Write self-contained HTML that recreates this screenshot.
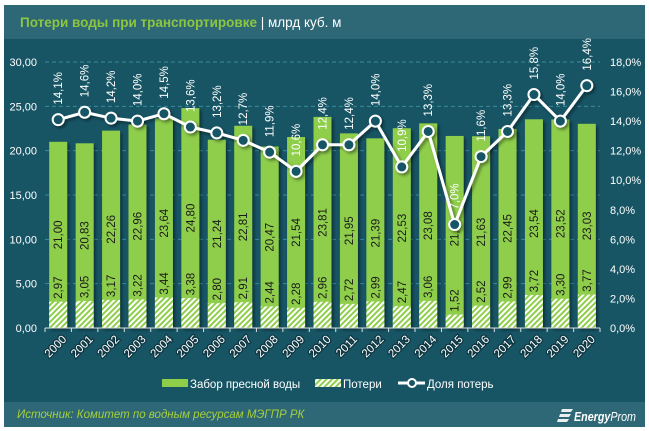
<!DOCTYPE html>
<html><head><meta charset="utf-8"><style>
body{margin:0;background:#fff;}
svg{display:block;font-family:"Liberation Sans","DejaVu Sans",sans-serif;}
</style></head><body>
<svg id="s" width="649" height="431" xmlns="http://www.w3.org/2000/svg">
<defs>
<pattern id="h" width="4" height="4" patternUnits="userSpaceOnUse" patternTransform="rotate(45)">
<rect width="4" height="4" fill="#8fce4b"/><rect width="2" height="4" fill="#ffffff"/>
</pattern>
<filter id="sh" x="-50%" y="-50%" width="200%" height="200%"><feDropShadow dx="2" dy="2" stdDeviation="1.5" flood-color="#000" flood-opacity="0.45"/></filter>
</defs>
<rect x="4" y="5" width="641" height="422" fill="#175565"/>
<rect x="4" y="5" width="641" height="34" fill="#2e6877"/>
<rect x="4" y="402" width="641" height="25" fill="#2e6877"/>
<text x="20" y="27" font-size="13.5" font-weight="bold" fill="#8dc63f">Потери воды при транспортировке <tspan fill="#fff" font-weight="normal">| млрд куб. м</tspan></text>
<text x="17" y="418" font-size="11.5" font-style="italic" fill="#a6cf3a">Источник: Комитет по водным ресурсам МЭГПР РК</text>
<g fill="#fff"><path d="M562 409h11l-2 3h-10zM560 414h11l-2 3h-10zM558 419h11l-2 3h-10z" opacity="0.9"/></g>
<text x="574" y="421" font-size="12.5" font-style="italic" font-weight="bold" fill="#fff" textLength="62" lengthAdjust="spacingAndGlyphs">Energy<tspan font-weight="normal">Prom</tspan></text>
<g id="g"></g>
</svg>
<script>
const W=[21.00,20.83,22.26,22.96,23.64,24.80,21.24,22.81,20.47,21.54,23.81,21.95,21.39,22.53,23.08,21.66,21.63,22.45,23.54,23.52,23.03];
const L=[2.97,3.05,3.17,3.22,3.44,3.38,2.80,2.91,2.44,2.28,2.96,2.72,2.99,2.47,3.06,1.52,2.52,2.99,3.72,3.30,3.77];
const P=[14.1,14.6,14.2,14.0,14.5,13.6,13.2,12.7,11.9,10.6,12.4,12.4,14.0,10.9,13.3,7.0,11.6,13.3,15.8,14.0,16.4];
const y0=328,ky=266/30,kp=266/18,x0=45,st=26.43;
let s='';
for(let v=0;v<=30;v+=5){const y=y0-v*ky;
 if(v>0)s+=`<line x1="45" x2="600" y1="${y}" y2="${y}" stroke="#3a8aa0" stroke-dasharray="4,3" stroke-width="1"/>`;
 s+=`<text x="37" y="${y+4}" font-size="11" fill="#fff" text-anchor="end">${v.toFixed(2).replace('.',',')}</text>`;}
for(let p=0;p<=18;p+=2){const y=y0-p*kp;s+=`<text x="610" y="${y+4}" font-size="11" fill="#fff">${p.toFixed(1).replace('.',',')}%</text>`;}
const cx=i=>x0+13.2+i*st;
for(let i=0;i<21;i++){const x=cx(i)-9;const tw=y0-W[i]*ky,tl=y0-L[i]*ky;
 s+=`<rect x="${x}" y="${tw}" width="18" height="${y0-tw}" fill="#8fce4b" filter="url(#sh)"/>`;
 s+=`<rect x="${x}" y="${tl}" width="18" height="${y0-tl}" fill="url(#h)"/>`;
 const cw=y0-W[i]/2*ky;
 s+=`<text transform="translate(${cx(i)+4},${cw}) rotate(-90)" font-size="11.5" text-anchor="middle" fill="#1a1a1a">${W[i].toFixed(2).replace('.',',')}</text>`;
 s+=`<text transform="translate(${cx(i)+4},${tl-14}) rotate(-90)" font-size="11.5" text-anchor="middle" fill="#1a1a1a">${L[i].toFixed(2).replace('.',',')}</text>`;
 s+=`<text transform="translate(${cx(i)+9},${y0+12}) rotate(-45)" font-size="11.5" text-anchor="end" fill="#fff" stroke="#0d3540" stroke-width="2.5" paint-order="stroke">${2000+i}</text>`;}
s+=`<line x1="45" x2="600" y1="${y0}" y2="${y0}" stroke="#ddd" stroke-width="1"/>`;
for(let i=0;i<=21;i++)s+=`<line x1="${x0+i*st}" x2="${x0+i*st}" y1="${y0}" y2="${y0+4}" stroke="#ddd"/>`;
let pts=P.map((p,i)=>`${cx(i)},${y0-p*kp}`).join(' ');
s+=`<g filter="url(#sh)"><polyline points="${pts}" fill="none" stroke="#fff" stroke-width="3"/>`;
P.forEach((p,i)=>{s+=`<circle cx="${cx(i)}" cy="${y0-p*kp}" r="5.5" fill="#175565" stroke="#fff" stroke-width="2"/>`});
s+='</g>';
P.forEach((p,i)=>{s+=`<text transform="translate(${cx(i)+4},${y0-p*kp-15}) rotate(-90)" font-size="11.5" fill="#fff">${p.toFixed(1).replace('.',',')}%</text>`});
s+=`<rect x="162" y="379" width="26" height="8" fill="#8fce4b"/><text x="190" y="388" font-size="11.5" fill="#fff">Забор пресной воды</text>`;
s+=`<rect x="315" y="379" width="26" height="8" fill="url(#h)"/><text x="343" y="388" font-size="11.5" fill="#fff">Потери</text>`;
s+=`<line x1="398" x2="425" y1="383" y2="383" stroke="#fff" stroke-width="3"/><circle cx="412" cy="383" r="4" fill="#175565" stroke="#fff" stroke-width="2"/><text x="427" y="388" font-size="11.5" fill="#fff">Доля потерь</text>`;
document.getElementById('g').innerHTML=s;
</script>
</body></html>
